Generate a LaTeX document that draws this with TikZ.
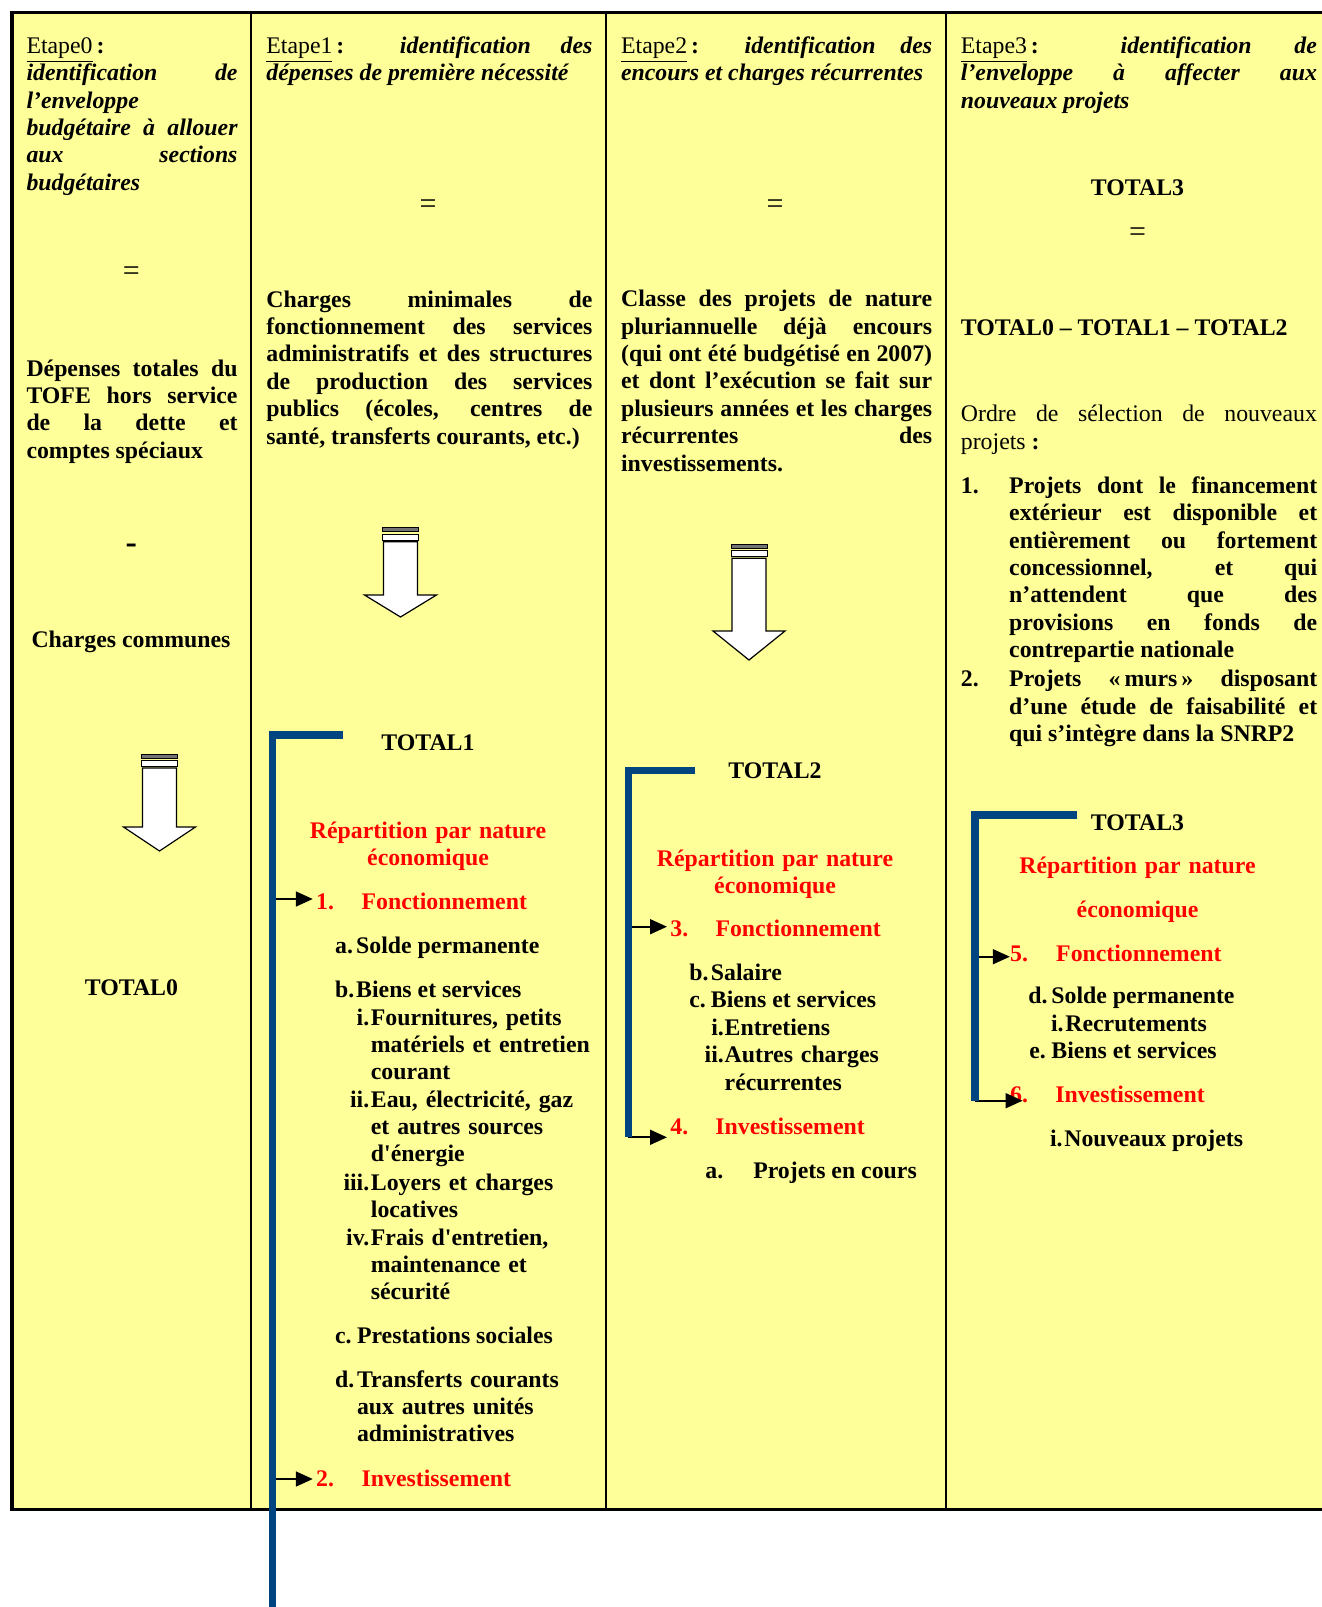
\documentclass[tikz,border=0pt]{standalone}
\usepackage{fontspec}
\setmainfont{Liberation Serif}
\usetikzlibrary{arrows.meta}
\definecolor{Paper}{RGB}{255, 255, 153}
\definecolor{Bracket}{RGB}{0, 68, 128}
\definecolor{Rouge}{RGB}{255, 0, 0}

\begin{document}
\begin{tikzpicture}[
    x=0.5pt, y=-0.5pt,
    font=\fontsize{11.9}{13.7}\selectfont\bfseries,
    every node/.style={inner sep=0pt},
    execute at begin node={\hyphenpenalty=10000\relax\tolerance=10000\relax\hbadness=10000\relax},
    para/.style={anchor=base west, align=justify, text width=#1},
    lst/.style={anchor=base west, align=left, text width=#1},
    lbl/.style={anchor=base west},
    rlbl/.style={anchor=base east},
    mid/.style={anchor=base},
    eq/.style={font=\fontsize{15}{15}\selectfont\mdseries},
    rouge/.style={text=Rouge},
    repart/.style={anchor=base, align=center, text width=150pt, text=Rouge},
    frame/.style={line width=1.8pt},
    divider/.style={line width=1pt},
    bracket/.style={draw=Bracket, line width=3.7pt},
    itemarrow/.style={-{Triangle[length=8.5pt,width=7.5pt]}, line width=0.85pt, shorten >=1.5pt},
    stripe dark/.style={fill=black!55, draw=black, line width=0.5pt},
    stripe light/.style={fill=white, draw=black, line width=0.5pt},
    hollow/.style={fill=white, draw=black, line width=0.6pt, line join=miter}
    ]
    \useasboundingbox (0,0) rectangle (1322,1607);

    % table
    \fill[Paper] (12,12.3) rectangle (1322,1509.5);
    \draw[frame] (1322,12.3) -- (12,12.3) -- (12,1509.5) -- (1322,1509.5);
    \foreach \cx in {251.4, 605.5, 945.5}
    \draw[divider] (\cx,12.3) -- (\cx,1509.5);

    % column 0
    \node[para=105.5pt] (e0) at (26.1,53.3) {{\mdseries\underline{Etape0}}\kern2pt:\newline
        \textit{identification de\linebreak l’enveloppe\linebreak budgétaire à allouer\linebreak aux sections\linebreak budgétaires}};
    \node[eq] (eq0) at (131.4,273.3) {=};
    \node[para=105.5pt] (dep0) at (26.1,376) {Dépenses totales du\linebreak TOFE hors service\linebreak de la dette et\linebreak comptes spéciaux};
    \node[font=\fontsize{17}{17}\selectfont\bfseries] (moins0) at (131.2,548.7) {-};
    \node[mid] (cc0) at (131,647) {Charges communes};
    \node[mid] (tot0) at (131.5,995) {TOTAL0};

    % column 1
    \node[para=163pt] (e1) at (266,53.3) {{\mdseries\underline{Etape1}}\kern2pt: \textit{identification des\linebreak dépenses de première nécessité}};
    \node[eq] (eq1) at (428,206.7) {=};
    \node[para=163pt] (ch1) at (266,307) {Charges minimales de\linebreak fonctionnement des services\linebreak administratifs et des structures\linebreak de production des services\linebreak publics (écoles, centres de\linebreak santé, transferts courants, etc.)};
    \node[mid] (tot1) at (428,750) {TOTAL1};
    \node[repart] (rep1) at (428,838.3) {Répartition par nature\\économique};
    \node[lbl, rouge] (n1) at (315.8,909.3) {1.};
    \node[lbl, rouge] (fct1) at (361.3,909.3) {Fonctionnement};
    \node[lbl] (la1) at (334.7,953.3) {a.};
    \node[lbl] (sol1) at (355.8,953.3) {Solde permanente};
    \node[lbl] (lb1) at (334.7,997) {b.};
    \node[lbl] (bs1) at (355.8,997) {Biens et services};
    \node[rlbl] (ri1) at (369.7,1025) {i.};
    \node[lst=115pt] (fo1) at (370.5,1025) {Fournitures, petits\\matériels et entretien\\courant};
    \node[rlbl] (rii1) at (369.7,1107) {ii.};
    \node[lst=115pt] (eau1) at (370.5,1107) {Eau, électricité, gaz\\et autres sources\\d\textquotesingle énergie};
    \node[rlbl] (riii1) at (369.7,1190) {iii.};
    \node[lst=115pt] (loy1) at (370.5,1190) {Loyers et charges\\locatives};
    \node[rlbl] (riv1) at (369.7,1245) {iv.};
    \node[lst=115pt] (fra1) at (370.5,1245) {Frais d\textquotesingle entretien,\\maintenance et\\sécurité};
    \node[lbl] (lc1) at (334.7,1343) {c.};
    \node[lbl] (pre1) at (356.6,1343) {Prestations sociales};
    \node[lbl] (ld1) at (334.7,1387) {d.};
    \node[lst=115pt] (tra1) at (356.6,1387) {Transferts courants\\aux autres unités\\administratives};
    \node[lbl, rouge] (n2) at (315.8,1486) {2.};
    \node[lbl, rouge] (inv1) at (361.3,1486) {Investissement};

    % column 2
    \node[para=155.5pt] (e2) at (620.7,53.3) {{\mdseries\underline{Etape2}}\kern2pt: \textit{identification des\linebreak encours et charges récurrentes}};
    \node[eq] (eq2) at (775,206.7) {=};
    \node[para=155.5pt] (cl2) at (620.7,306.7) {Classe des projets de nature\linebreak pluriannuelle déjà encours\linebreak (qui ont été budgétisé en 2007)\linebreak et dont l’exécution se fait sur\linebreak plusieurs années et les charges\linebreak récurrentes des\linebreak investissements.};
    \node[mid] (tot2) at (775,778.3) {TOTAL2};
    \node[repart] (rep2) at (775,866) {Répartition par nature\\économique};
    \node[lbl, rouge] (n3) at (670,936.7) {3.};
    \node[lbl, rouge] (fct2) at (715.1,936.7) {Fonctionnement};
    \node[lbl] (lb2) at (688.9,980) {b.};
    \node[lbl] (sal2) at (710.5,980) {Salaire};
    \node[lbl] (lc2) at (688.9,1007) {c.};
    \node[lbl] (bs2) at (710.5,1007) {Biens et services};
    \node[rlbl] (ri2) at (724.3,1035.6) {i.};
    \node[lbl] (ent2) at (724.3,1035.6) {Entretiens};
    \node[rlbl] (rii2) at (724.3,1062.7) {ii.};
    \node[lst=100pt] (aut2) at (724.3,1062.7) {Autres charges\\récurrentes};
    \node[lbl, rouge] (n4) at (670,1134.7) {4.};
    \node[lbl, rouge] (inv2) at (715,1134.7) {Investissement};
    \node[lbl] (la2) at (705,1178) {a.};
    \node[lbl] (enc2) at (752.9,1178) {Projets en cours};

    % column 3
    \node[para=178pt] (e3) at (960.5,53.3) {{\mdseries\underline{Etape3}}\kern2pt: \textit{identification de\linebreak l’enveloppe à affecter aux\linebreak nouveaux projets}};
    \node[mid] (tot3a) at (1137.5,195) {TOTAL3};
    \node[eq] (eq3) at (1137.5,235) {=};
    \node[lbl] (diff3) at (960.5,335) {TOTAL0 – TOTAL1 – TOTAL2};
    \node[para=178pt] (ord3) at (960.5,421.7) {\mdseries Ordre de sélection de nouveaux\linebreak projets \textbf{:}};
    \node[lbl] (o1) at (960.5,493.3) {1.};
    \node[para=154pt] (p1) at (1008.8,493.3) {Projets dont le financement\linebreak extérieur est disponible et\linebreak entièrement ou fortement\linebreak concessionnel, et qui\linebreak n’attendent que des\linebreak provisions en fonds de\linebreak contrepartie nationale};
    \node[lbl] (o2) at (960.5,686.7) {2.};
    \node[para=154pt] (p2) at (1008.8,686.7) {Projets «\,murs\,» disposant\linebreak d’une étude de faisabilité et\linebreak qui s’intègre dans la SNRP2};
    \node[mid] (tot3b) at (1137.5,830) {TOTAL3};
    \node[repart] (rep3) at (1137.5,873.3) {Répartition par nature\\[8.3pt]économique};
    \node[lbl, rouge] (n5) at (1009.8,961.7) {5.};
    \node[lbl, rouge] (fct3) at (1055.8,961.7) {Fonctionnement};
    \node[lbl] (ld3) at (1028,1003) {d.};
    \node[lbl] (sol3) at (1051,1003) {Solde permanente};
    \node[rlbl] (ri3) at (1064,1031) {i.};
    \node[lbl] (rec3) at (1065,1031) {Recrutements};
    \node[lbl] (le3) at (1029,1058) {e.};
    \node[lbl] (bs3) at (1051,1058) {Biens et services};
    \node[lbl, rouge] (n6) at (1009.8,1102.6) {6.};
    \node[lbl, rouge] (inv3) at (1054.9,1102.6) {Investissement};
    \node[rlbl] (rin3) at (1063,1146.3) {i.};
    \node[lbl] (nou3) at (1064,1146.3) {Nouveaux projets};

    % striped block arrows
    \foreach \mx/\ya/\yb/\hh in {159.5/754/851/24, 400.5/527.7/617/22, 749/544.3/660/29} {
        \draw[stripe dark] (\mx-18,\ya) rectangle (\mx+18,\ya+4);
        \draw[stripe light] (\mx-18,\ya+6.3) rectangle (\mx+18,\ya+12.3);
        \draw[hollow] (\mx-17,\ya+14) -- (\mx+17,\ya+14) -- (\mx+17,\yb-\hh) -- (\mx+36,\yb-\hh)
            -- (\mx,\yb) -- (\mx-36,\yb-\hh) -- (\mx-17,\yb-\hh) -- cycle;
    }

    % brackets and item arrows
    \coordinate (k1a) at (342.5,735);
    \coordinate (k1b) at (272.5,1607);
    \coordinate (f1) at (272.5,899);
    \coordinate (f2) at (272.5,1479);
    \coordinate (k2a) at (695.3,770.3);
    \coordinate (k2b) at (628.3,1137.3);
    \coordinate (f3) at (628.3,926.7);
    \coordinate (k3a) at (1077.4,815);
    \coordinate (k3b) at (975,1100.7);
    \coordinate (f5) at (975,956.7);

    \draw[itemarrow] (f1) -- (f1 -| n1.west);
    \draw[itemarrow] (f2) -- (f2 -| n2.west);
    \draw[itemarrow] (f3) -- (f3 -| n3.west);
    \draw[itemarrow] (k2b) -- (k2b -| n4.west);
    \draw[itemarrow, shorten >=0pt] (f5) -- (f5 -| n5.west);
    \draw[itemarrow, shorten >=-6.4pt] (k3b) -- (k3b -| n6.west);

    \draw[bracket] (k1a) -| (k1b);
    \draw[bracket] (k2a) -| (k2b);
    \draw[bracket] (k3a) -| (k3b);
\end{tikzpicture}
\end{document}
